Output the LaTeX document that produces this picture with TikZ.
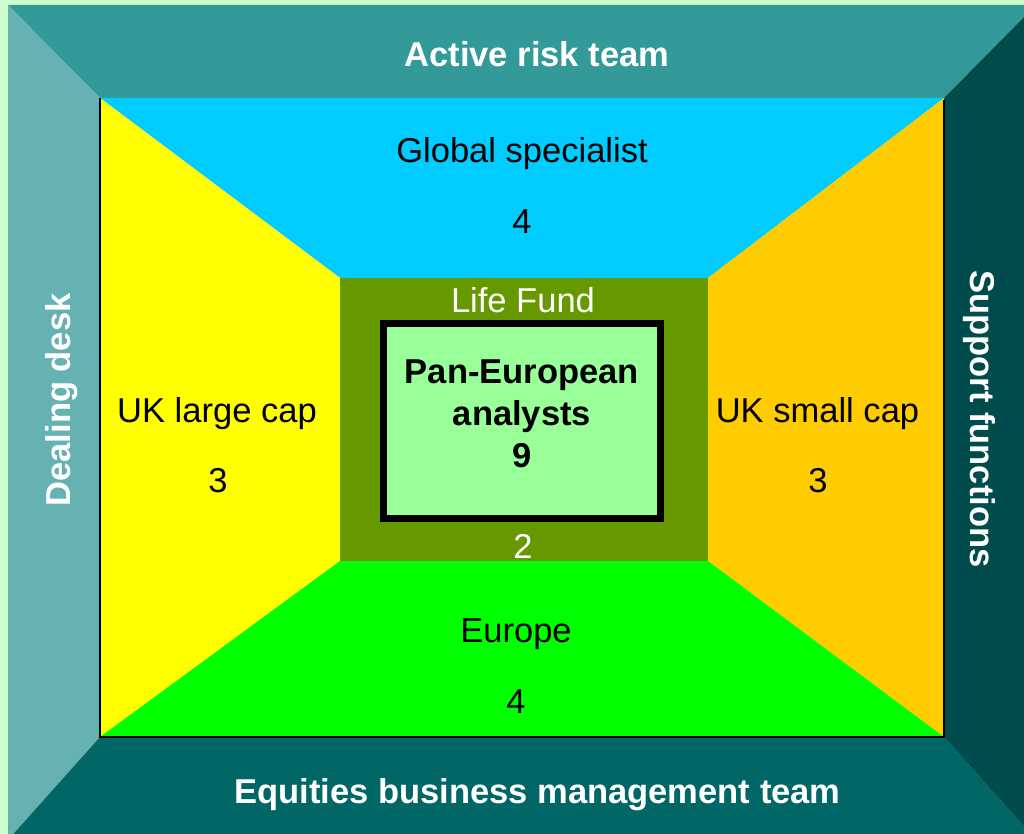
\documentclass[tikz,border=0pt]{standalone}
\usepackage{fontspec}
\setmainfont{Liberation Sans}
\usetikzlibrary{positioning}
\definecolor{mintbg}{HTML}{CCFFCC}
\definecolor{frametop}{HTML}{339999}
\definecolor{frameleft}{HTML}{66B2B2}
\definecolor{framebot}{HTML}{006666}
\definecolor{frameright}{HTML}{004C4C}
\definecolor{wallcyan}{HTML}{00CCFF}
\definecolor{wallyellow}{HTML}{FFFF00}
\definecolor{wallorange}{HTML}{FFCC00}
\definecolor{wallgreen}{HTML}{00FF00}
\definecolor{lifeolive}{HTML}{669900}
\definecolor{panlight}{HTML}{99FF99}

\begin{document}
\begin{tikzpicture}[x=0.75pt,y=-0.75pt]
  % Configurable parameters
  \newcommand{\wallfont}{\fontsize{25.9}{31.5}\selectfont}   % all labels
  \tikzset{
    lbl/.style={inner sep=0pt,anchor=base,font=\wallfont},
    hdr/.style={lbl,text=white,font=\wallfont\bfseries}
  }
  %
  % Page size
  \useasboundingbox (0,0) rectangle (1024,834);
  \fill[mintbg] (0,0) rectangle (1024,834);
  %
  % Outer frame (cut at the page edge)
  \begin{scope}
    \clip (0,0) rectangle (1024,834);
    \fill[frametop]   (8,5) -- (1036,5) -- (944,98) -- (100,98) -- cycle;
    \fill[frameleft]  (8,5) -- (100,98) -- (100,737) -- (8,840) -- cycle;
    \fill[framebot]   (8,840) -- (100,737) -- (944,737) -- (1036,840) -- cycle;
    \fill[frameright] (1036,5) -- (1036,840) -- (944,737) -- (944,98) -- cycle;
  \end{scope}
  %
  % Inner walls
  \fill[wallcyan]   (100,98) -- (944,98) -- (708,278) -- (340,278) -- cycle;
  \fill[wallyellow] (100,98) -- (340,278) -- (340,561) -- (100,737) -- cycle;
  \fill[wallorange] (944,98) -- (944,737) -- (708,561) -- (708,278) -- cycle;
  \fill[wallgreen]  (100,737) -- (944,737) -- (708,561) -- (340,561) -- cycle;
  \draw[line width=1.5pt] (100,98) -- (100,737) -- (944,737) -- (944,100);
  %
  % Back wall
  \fill[lifeolive] (340,278) rectangle (708,561);
  \filldraw[fill=panlight,draw=black,line width=5.25pt]
    (383.5,323.5) rectangle (660.5,518.5);
  %
  % Frame labels
  \node[hdr] (active) at (537,67) {Active risk team};
  \node[hdr] (equities) at (537.5,803) {Equities business management team};
  \node[hdr,rotate=90] (dealing) at (70,400) {Dealing desk};
  \node[hdr,rotate=-90] (support) at (970,419) {Support functions};
  %
  % Wall labels
  \node[lbl] (global) at (522,163) {Global specialist};
  \node[lbl] (globaln) at (522,234) {4};
  \node[lbl] (large) at (217,422) {UK large cap};
  \node[lbl] (largen) at (218,492) {3};
  \node[lbl] (small) at (817.5,422) {UK small cap};
  \node[lbl] (smalln) at (818,492) {3};
  \node[lbl] (europe) at (516,642) {Europe};
  \node[lbl] (europen) at (516,713) {4};
  %
  % Centre labels
  \node[lbl,text=white] (life) at (523,312) {Life Fund};
  \node[lbl,text=white] (lifen) at (523,558) {2};
  \node[inner sep=0pt,align=center,font=\wallfont\bfseries] (pan)
    at (522,414) {Pan-European\\analysts\\9};
  %
\end{tikzpicture}
\end{document}
